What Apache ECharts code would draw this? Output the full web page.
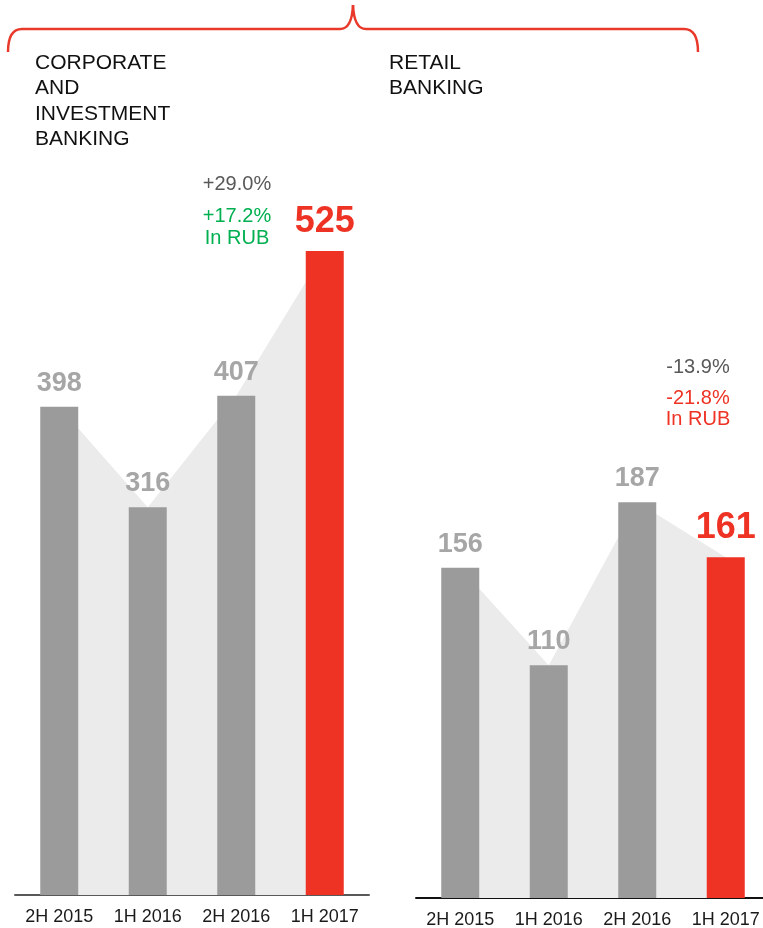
<!DOCTYPE html>
<html>
<head>
<meta charset="utf-8">
<script src="https://cdn.jsdelivr.net/npm/echarts@6/dist/echarts.min.js"></script>
<style>
  html, body { margin: 0; padding: 0; background: #fff; }
  #chart { width: 763px; height: 928px; }
</style>
</head>
<body>
<div id="chart"></div>
<script>
// data
var periods = ['2H 2015', '1H 2016', '2H 2016', '1H 2017'];
var cibValues = [398, 316, 407, 525];
var retailValues = [156, 110, 187, 161];

var GREY = '#9b9b9b';
var LABEL_GREY = '#a6a6a6';
var RED = '#ee3224';
var AREA = '#ebebeb';
var BRACE = '#e8392b';
var FONT = '"Liberation Sans", Arial, sans-serif';

// last bar is red and gets a bigger label
function toBars(values) {
    return values.map(function (v, i) {
        var last = i === values.length - 1;
        return {
            value: v,
            itemStyle: { color: last ? RED : GREY },
            label: last ? { color: RED, fontSize: 36, distance: 11 } : {}
        };
    });
}

function barSeries(values, idx) {
    return {
        type: 'bar',
        xAxisIndex: idx,
        yAxisIndex: idx,
        barWidth: 38,
        z: 3,
        data: toBars(values),
        label: {
            show: true,
            position: 'top',
            distance: 10,
            fontFamily: FONT,
            fontWeight: 'bold',
            fontSize: 27,
            color: LABEL_GREY
        }
    };
}

function areaSeries(values, idx) {
    return {
        type: 'line',
        xAxisIndex: idx,
        yAxisIndex: idx,
        data: values,
        symbol: 'none',
        silent: true,
        z: 1,
        lineStyle: { width: 0 },
        areaStyle: { color: AREA, opacity: 1 }
    };
}

function xAxisOf(idx, lineColor) {
    return {
        type: 'category',
        gridIndex: idx,
        data: periods,
        axisTick: { show: false },
        axisLine: { lineStyle: { color: lineColor, width: 2 } },
        axisLabel: {
            interval: 0,
            color: '#1a1a1a',
            fontFamily: FONT,
            fontSize: 18,
            margin: 13
        }
    };
}

function yAxisOf(idx, max) {
    return {
        type: 'value',
        gridIndex: idx,
        min: 0,
        max: max,
        show: false,
        splitLine: { show: false }
    };
}

function note(text, x, y, color) {
    return {
        type: 'text',
        x: x,
        y: y,
        style: {
            text: text,
            fill: color,
            font: '20px ' + FONT,
            align: 'center',
            verticalAlign: 'middle'
        }
    };
}

// brace pieces
function curve(x1, y1, x2, y2, cx, cy) {
    return {
        type: 'bezierCurve',
        shape: { x1: x1, y1: y1, x2: x2, y2: y2, cpx1: cx, cpy1: cy },
        style: { fill: null, stroke: BRACE, lineWidth: 2.5 }
    };
}
function seg(x1, y1, x2, y2) {
    return {
        type: 'line',
        shape: { x1: x1, y1: y1, x2: x2, y2: y2 },
        style: { stroke: BRACE, lineWidth: 2.5 }
    };
}

var chart = echarts.init(document.getElementById('chart'));

chart.setOption({
    animation: false,
    grid: [
        { left: 15, width: 354, top: 159, bottom: 33, outerBoundsMode: 'none' },
        { left: 416, width: 354, top: 263, bottom: 30, outerBoundsMode: 'none' }
    ],
    xAxis: [xAxisOf(0, '#595959'), xAxisOf(1, '#111111')],
    yAxis: [yAxisOf(0, 600), yAxisOf(1, 300)],
    series: [
        areaSeries(cibValues, 0),
        barSeries(cibValues, 0),
        areaSeries(retailValues, 1),
        barSeries(retailValues, 1)
    ],
    graphic: [
        curve(8, 52, 22, 29, 8, 29),
        seg(22, 29, 340, 29),
        curve(340, 29, 353, 5, 352, 29),
        curve(353, 5, 366, 29, 354, 29),
        seg(366, 29, 684, 29),
        curve(684, 29, 698, 52, 698, 29),
        {
            type: 'text',
            x: 35,
            y: 50,
            style: {
                text: 'CORPORATE\nAND\nINVESTMENT\nBANKING',
                fill: '#111',
                font: '21px ' + FONT,
                lineHeight: 25.5
            }
        },
        {
            type: 'text',
            x: 389,
            y: 50,
            style: {
                text: 'RETAIL\nBANKING',
                fill: '#111',
                font: '21px ' + FONT,
                lineHeight: 25.5
            }
        },
        note('+29.0%', 237, 184, '#595959'),
        note('+17.2%', 237, 216, '#00b050'),
        note('In RUB', 237, 238, '#00b050'),
        note('-13.9%', 698, 367, '#595959'),
        note('-21.8%', 698, 398, RED),
        note('In RUB', 698, 419, RED)
    ]
});
</script>
</body>
</html>
